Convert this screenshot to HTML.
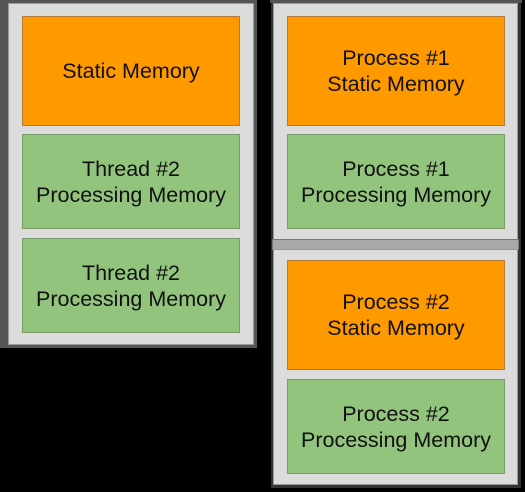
<!DOCTYPE html>
<html><head><style>
body{margin:0;width:525px;height:492px;background:#000;position:relative;overflow:hidden;font-family:"Liberation Sans",sans-serif}
div{position:absolute;box-sizing:border-box}
.c{background:#dcdcdc;border:1px solid #9a9a9a}
.b{display:flex;align-items:center;justify-content:center;text-align:center;font-size:21.5px;line-height:26px;color:#111}
.o{background:#ff9900;border:1px solid #b87a3a}
.g{background:#93c47d;border:1px solid #7a9a6a}
</style></head><body>
<div style="left:0;top:0;width:257px;height:348px;background:#555"></div>
<div style="left:270px;top:0;width:252px;height:3px;background:#555"></div>
<div style="left:271px;top:3px;width:250px;height:485px;background:#333"></div>
<div class="c" style="left:8px;top:3px;width:246px;height:342px"></div>
<div class="b o" style="left:22px;top:16px;width:218px;height:110px">Static Memory</div>
<div class="b g" style="left:22px;top:134px;width:218px;height:95px">Thread #2<br>Processing Memory</div>
<div class="b g" style="left:22px;top:238px;width:218px;height:95px">Thread #2<br>Processing Memory</div>
<div class="c" style="left:273px;top:3px;width:245px;height:237px"></div>
<div style="left:272px;top:239px;width:247px;height:11px;background:#a8a8a8;border:1px solid #777"></div>
<div class="c" style="left:273px;top:249px;width:245px;height:236px"></div>
<div class="b o" style="left:287px;top:16px;width:218px;height:110px">Process #1<br>Static Memory</div>
<div class="b g" style="left:287px;top:134px;width:218px;height:95px">Process #1<br>Processing Memory</div>
<div class="b o" style="left:287px;top:260px;width:218px;height:110px">Process #2<br>Static Memory</div>
<div class="b g" style="left:287px;top:379px;width:218px;height:95px">Process #2<br>Processing Memory</div>
</body></html>
